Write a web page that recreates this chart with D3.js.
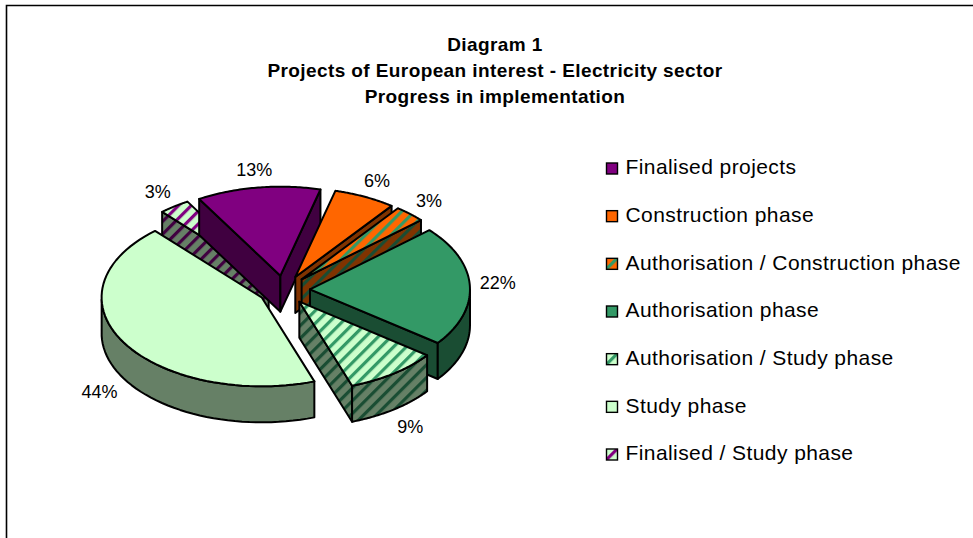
<!DOCTYPE html>
<html>
<head>
<meta charset="utf-8">
<script src="https://cdn.jsdelivr.net/npm/d3@7"></script>
<style>
html,body{margin:0;padding:0;background:#fff}
svg{display:block}
text{font-family:"Liberation Sans",Arial,sans-serif;fill:#000}
</style>
</head>
<body>
<svg id="chart" width="973" height="538"></svg>
<script>
const titleLines = ["Diagram 1", "Projects of European interest - Electricity sector", "Progress in implementation"];
const categories = ["Finalised projects", "Construction phase", "Authorisation / Construction phase", "Authorisation phase", "Authorisation / Study phase", "Study phase", "Finalised / Study phase"];
const shares = [12.5, 6.25, 3.125, 21.875, 9.375, 43.75, 3.125];
const faceColors = ["#800080", "#FF6600", "#FF6600", "#339966", "#CCFFCC", "#CCFFCC", "#CCFFCC"];
const stripeColors = [null, null, "#339966", null, "#339966", null, "#800080"];
const drawOrder = [6, 5, 0, 1, 2, 3, 4];

const W = 973, H = 538;
const cx = 284, cy = 290, rx = 160, ry = 89, depth = 36, explode = 26, labelRadius = 188;
const rad = Math.PI / 180;
const svg = d3.select("#chart");
const defs = svg.append("defs");

const shade = c => { const k = d3.rgb(c); return d3.rgb(k.r * 0.5, k.g * 0.5, k.b * 0.5).formatHex(); };

function stripePattern(id, bg, fg) {
  const p = defs.append("pattern").attr("id", id).attr("patternUnits", "userSpaceOnUse")
    .attr("width", 9).attr("height", 9).attr("patternTransform", "rotate(45)");
  p.append("rect").attr("width", 9).attr("height", 9).attr("fill", bg);
  p.append("rect").attr("width", 3.2).attr("height", 9).attr("fill", fg);
}
const fillFor = (i, dark) => {
  const bg = dark ? shade(faceColors[i]) : faceColors[i];
  if (!stripeColors[i]) return bg;
  return `url(#st${i}${dark ? "d" : ""})`;
};
categories.forEach((c, i) => {
  if (stripeColors[i]) {
    stripePattern(`st${i}`, faceColors[i], stripeColors[i]);
    stripePattern(`st${i}d`, shade(faceColors[i]), shade(stripeColors[i]));
  }
});

// frame
svg.append("path").attr("d", `M6.5,${H}V5.5H${W}`).attr("fill", "none").attr("stroke", "#000").attr("stroke-width", 1.6);

// title
svg.append("g").selectAll("text").data(titleLines).join("text")
  .attr("x", 495).attr("y", (d, i) => 51 + i * 26)
  .attr("text-anchor", "middle").attr("font-size", 19).attr("letter-spacing", 0.4).attr("font-weight", "bold").text(d => d);

// pie
const startAngle = -30.5 * rad;
const arcs = d3.pie().sort(null).startAngle(startAngle).endAngle(startAngle + 2 * Math.PI)(shares);
const xs = d3.scaleLinear().domain([-1, 1]).range([-rx, rx]);
const ys = d3.scaleLinear().domain([-1, 1]).range([-ry, ry]);
const line = d3.line();
const slices = svg.append("g");

drawOrder.forEach(i => {
  const a = arcs[i];
  const mid = (a.startAngle + a.endAngle) / 2;
  const ox = cx + explode * Math.sin(mid), oy = cy - explode * (ry / rx) * Math.cos(mid);
  const at = (t, f = 1) => [ox + xs(f * Math.sin(t)), oy + ys(-f * Math.cos(t))];
  const steps = d3.range(0, 61).map(k => a.startAngle + (a.endAngle - a.startAngle) * k / 60);
  const top = [[ox, oy], ...steps.map(t => at(t))];
  const g = slices.append("g");
  const drop = p => [p[0], p[1] + depth];
  const wall = pts => g.append("path")
    .attr("d", line([...pts, ...pts.slice().reverse().map(drop)]) + "Z")
    .attr("fill", fillFor(i, true)).attr("stroke", "#000").attr("stroke-width", 2).attr("stroke-linejoin", "round");

  // radial walls facing the viewer
  const sP = at(a.startAngle), eP = at(a.endAngle);
  if (sP[0] < ox) wall([[ox, oy], sP]);
  if (eP[0] > ox) wall([eP, [ox, oy]]);
  // rim wall: the part of the arc that faces the viewer
  const front = steps.filter(t => Math.cos(t) < 0);
  if (front.length > 1) wall(front.map(t => at(t)));

  g.append("path").attr("d", line(top) + "Z").attr("fill", fillFor(i, false))
    .attr("stroke", "#000").attr("stroke-width", 2).attr("stroke-linejoin", "round");
});

// percentage labels
svg.append("g").selectAll("text").data(arcs).join("text")
  .each(function (a) {
    const mid = (a.startAngle + a.endAngle) / 2;
    const ox = cx + explode * Math.sin(mid), oy = cy - explode * (ry / rx) * Math.cos(mid);
    const lx = ox + labelRadius * Math.sin(mid);
    const ly = oy - labelRadius * (ry / rx) * Math.cos(mid) + (Math.cos(mid) < 0 ? depth + 5 : -2);
    d3.select(this).attr("x", lx).attr("y", ly).attr("dy", "0.35em");
  })
  .attr("text-anchor", "middle").attr("font-size", 18)
  .text(a => Math.round(a.data + 1e-9) + "%");

// legend
const ly = d3.scalePoint().domain(categories).range([167, 453]);
const legend = svg.append("g").selectAll("g").data(categories).join("g")
  .attr("transform", d => `translate(0,${ly(d)})`);
legend.append("rect").attr("x", 606.5).attr("y", -4).attr("width", 11).attr("height", 11)
  .attr("fill", (d, i) => fillFor(i, false)).attr("stroke", "#000").attr("stroke-width", 1.4);
legend.append("text").attr("x", 625.5).attr("y", 0).attr("dy", "0.35em").attr("font-size", 21).attr("letter-spacing", 0.42).text(d => d);
</script>
</body>
</html>
